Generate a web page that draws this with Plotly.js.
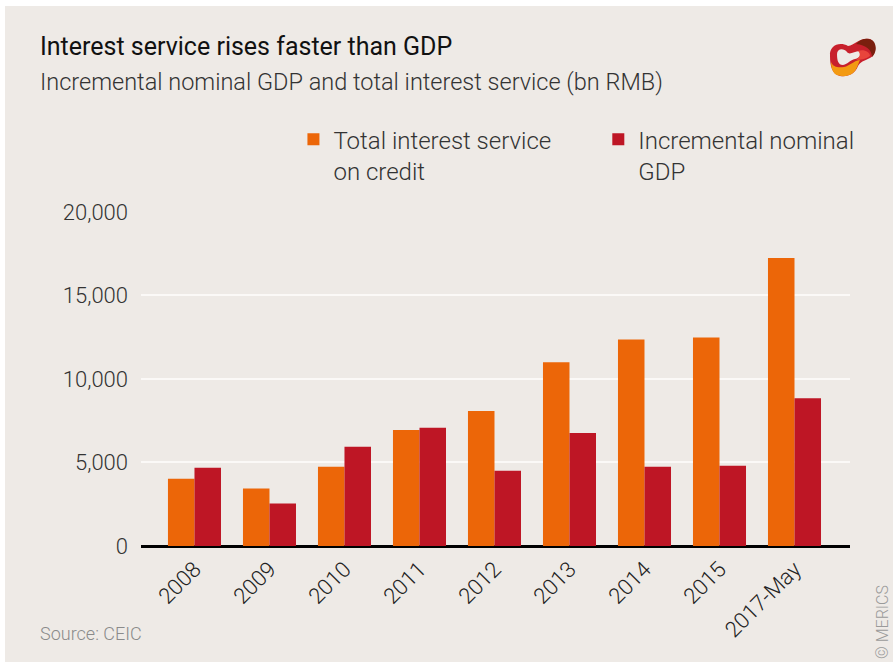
<!DOCTYPE html>
<html>
<head>
<meta charset="utf-8">
<script src="https://cdn.plot.ly/plotly-3.0.1.min.js"></script>
<style>
  html, body { margin: 0; padding: 0; background: #ffffff; }
  #chart { position: absolute; left: 5px; top: 6px; width: 888px; height: 656px; background: #eeeae6; }
</style>
</head>
<body>
<div id="chart"></div>
<script>
const categories = ["2008", "2009", "2010", "2011", "2012", "2013", "2014", "2015", "2017-May"];
const interestService = [4030, 3440, 4750, 6950, 8080, 11000, 12360, 12480, 17240];
const incrementalGDP = [4690, 2540, 5940, 7070, 4510, 6770, 4740, 4800, 8850];
const seriesNames = ["Total interest service<br>on credit", "Incremental nominal<br>GDP"];
const yTicks = [0, 5000, 10000, 15000, 20000];
const yTickText = ["0", "5,000", "10,000", "15,000", "20,000"];

const FONT = "Roboto, 'Open Sans', sans-serif";

// plot-area geometry (page pixels) used only to place the decorative logo
const M = { l: 136, r: 43, t: 205, b: 116 };
const W = 888, H = 656, OX = 5, OY = 6;
const PW = W - M.l - M.r, PH = H - M.t - M.b;
function px(x) { return ((x - OX - M.l) / PW).toFixed(4); }
function py(y) { return ((H - M.b - (y - OY)) / PH).toFixed(4); }
function path(cmds) {
  return cmds.map(c => c[0] + " " + c.slice(1).map(p => px(p[0]) + " " + py(p[1])).join(", ")).join(" ") + " Z";
}

const logoOuter = path([
  ["M", [830, 56]],
  ["C", [829, 46], [839, 41], [848, 46]],
  ["C", [855, 45], [860, 37], [870, 39]],
  ["C", [877, 42], [877, 55], [870, 58]],
  ["C", [864, 61], [860, 62], [858, 66]],
  ["C", [855, 74], [848, 77], [840, 76]],
  ["C", [832, 74], [830, 66], [830, 56]]
]);
const logoHole = path([
  ["M", [837, 54]],
  ["C", [837, 48], [844, 48], [847, 52]],
  ["C", [850, 56], [855, 50], [861, 51]],
  ["C", [864, 53], [860, 58], [855, 59]],
  ["C", [850, 60], [848, 64], [843, 65]],
  ["C", [838, 65], [837, 60], [837, 54]]
]);
const logoOrange = path([
  ["M", [831, 62]],
  ["C", [833, 67], [838, 68], [844, 67]],
  ["C", [850, 66], [853, 61], [860, 60]],
  ["C", [858, 64], [857, 70], [853, 73]],
  ["C", [848, 77], [840, 77], [835, 74]],
  ["C", [832, 71], [831, 66], [831, 62]]
]);
const logoDark = path([
  ["M", [856, 44]],
  ["C", [861, 38], [870, 37], [874, 42]],
  ["C", [877, 47], [876, 53], [872, 57]],
  ["C", [872, 50], [866, 45], [856, 44]]
]);
const logoPink = path([
  ["M", [858, 51]],
  ["C", [864, 49], [870, 52], [870, 56]],
  ["C", [866, 59], [860, 60], [856, 60]],
  ["C", [860, 57], [861, 54], [858, 51]]
]);

const traces = [
  { type: "bar", name: seriesNames[0], x: categories, y: interestService,
    marker: { color: "#ec6608" }, hoverinfo: "x+y", legend: "legend" },
  { type: "bar", name: seriesNames[1], x: categories, y: incrementalGDP,
    marker: { color: "#be1625" }, hoverinfo: "x+y", legend: "legend2" }
];

const legendStyle = {
  orientation: "h", xanchor: "left", y: 1.28, yanchor: "top",
  font: { size: 24, family: FONT, color: "#333333", weight: 300 },
  bgcolor: "rgba(0,0,0,0)", valign: "top"
};

const layout = {
  width: W, height: H,
  paper_bgcolor: "rgba(0,0,0,0)", plot_bgcolor: "rgba(0,0,0,0)",
  margin: M,
  font: { family: FONT, color: "#333333", weight: 300 },
  barmode: "group", bargap: 0.293, bargroupgap: 0,
  showlegend: true,
  legend: Object.assign({}, legendStyle, { x: 0.215 }),
  legend2: Object.assign({}, legendStyle, { x: 0.645 }),
  xaxis: {
    type: "category", range: [-0.713, 8.74],
    tickangle: -45, tickfont: { size: 22, family: FONT, color: "#222222", weight: 300 },
    showgrid: false, showline: false, ticks: "", ticklabelstandoff: 5, fixedrange: true
  },
  yaxis: {
    range: [0, 20050], tickvals: yTicks, ticktext: yTickText,
    tickfont: { size: 22, family: FONT, color: "#333333", weight: 300 },
    showgrid: true, gridcolor: "#fbf9f7", gridwidth: 2,
    zeroline: true, zerolinecolor: "#000000", zerolinewidth: 3,
    showline: false, ticks: "", ticklabelstandoff: 12, fixedrange: true
  },
  annotations: [
    { xref: "paper", yref: "paper", x: -0.145, y: 1.49, xanchor: "left", yanchor: "middle",
      text: "Interest service rises faster than GDP", showarrow: false,
      font: { size: 25, family: FONT, color: "#111111", weight: 400 } },
    { xref: "paper", yref: "paper", x: -0.145, y: 1.385, xanchor: "left", yanchor: "middle",
      text: "Incremental nominal GDP and total interest service (bn RMB)", showarrow: false,
      font: { size: 23.5, family: FONT, color: "#333333", weight: 300 } },
    { xref: "paper", yref: "paper", x: -0.145, y: -0.26, xanchor: "left", yanchor: "middle",
      text: "Source: CEIC", showarrow: false,
      font: { size: 18, family: FONT, color: "#8a8a8a", weight: 300 } },
    { xref: "paper", yref: "paper", x: 1.045, y: -0.227, xanchor: "center", yanchor: "middle",
      text: "© MERICS", showarrow: false, textangle: -90,
      font: { size: 16, family: FONT, color: "#9a9a9a", weight: 300 } }
  ],
  shapes: [
    { type: "path", xref: "paper", yref: "paper", layer: "above", path: logoOuter, fillcolor: "#c8202c", line: { width: 0 } },
    { type: "path", xref: "paper", yref: "paper", layer: "above", path: logoHole, fillcolor: "#eeeae6", line: { width: 0 } },
    { type: "path", xref: "paper", yref: "paper", layer: "above", path: logoOrange, fillcolor: "#f39a12", line: { width: 0 } },
    { type: "path", xref: "paper", yref: "paper", layer: "above", path: logoDark, fillcolor: "#7a1f0e", line: { width: 0 } },
    { type: "path", xref: "paper", yref: "paper", layer: "above", path: logoPink, fillcolor: "#e8453c", line: { width: 0 } }
  ]
};

Plotly.newPlot("chart", traces, layout, { displayModeBar: false, staticPlot: true });
</script>
</body>
</html>
